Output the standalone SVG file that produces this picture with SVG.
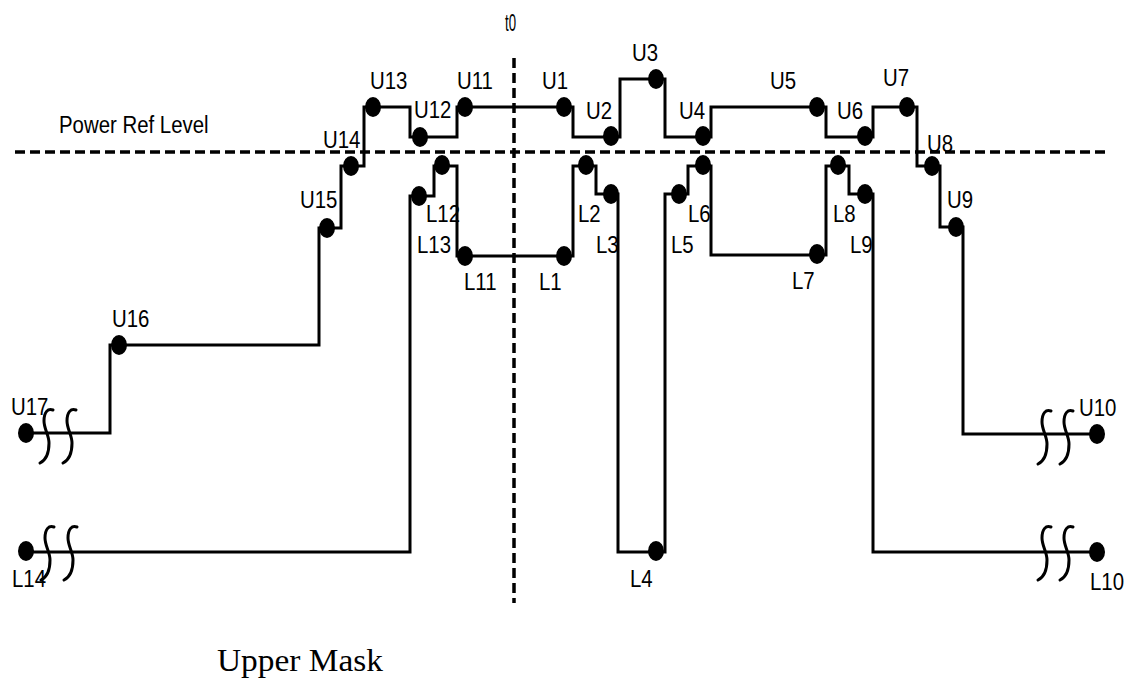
<svg xmlns="http://www.w3.org/2000/svg" width="1127" height="678" viewBox="0 0 1127 678">
<style>
.lbl{font-family:"Liberation Sans",Arial,sans-serif;font-size:24px;fill:#000}
.ttl{font-family:"Liberation Serif","Times New Roman",serif;font-size:31px;fill:#000}
.mask{fill:none;stroke:#000;stroke-width:3;stroke-linejoin:miter}
.ref{fill:none;stroke:#000;stroke-width:3.5;stroke-dasharray:10 5}
.dot{fill:#000}
.brk{fill:none;stroke:#000;stroke-width:3;stroke-linecap:round}
</style>
<defs>
<path id="brk" class="brk" d="M 6 -23 C 1 -25 -3 -21 -3 -12 C -3 -4 2 2 2 10 C 2 20 -1 27 -7 30"/>
<ellipse id="d" class="dot" rx="8" ry="10"/>
</defs>
<rect width="1127" height="678" fill="#fff"/>
<g id="reference-lines">
<line class="ref" x1="15" y1="152" x2="1106" y2="152"/>
<line class="ref" x1="514" y1="58" x2="514" y2="603"/>
<text class="lbl" transform="translate(505 31) scale(0.55 1)">t0</text>
<text class="lbl" transform="translate(59 133) scale(0.85 1)">Power Ref Level</text>
</g>
<g id="connectors">
<path id="upper-mask" class="mask" d="M 26 433 H 110 V 345 H 319 V 228 H 341 V 166 H 364 V 107 H 410 V 137 H 457 V 107 H 573 V 137 H 620 V 79 H 665 V 137 H 711 V 107 H 826 V 137 H 873 V 107 H 917 V 166 H 940 V 227 H 963 V 434 H 1097"/>
<path id="lower-mask" class="mask" d="M 26 552 H 410 V 196 H 434 V 166 H 457 V 256 H 573 V 166 H 596 V 194 H 618 V 552 H 665 V 194 H 688 V 166 H 711 V 255 H 826 V 166 H 849 V 194 H 873 V 552 H 1097"/>
<use href="#brk" x="47" y="433"/>
<use href="#brk" x="70" y="433"/>
<use href="#brk" x="48" y="550"/>
<use href="#brk" x="71" y="550"/>
<use href="#brk" x="1045" y="434"/>
<use href="#brk" x="1067" y="434"/>
<use href="#brk" x="1045" y="550"/>
<use href="#brk" x="1067" y="550"/>
</g>
<g id="U17"><use href="#d" x="26" y="433"/><text class="lbl" transform="translate(11 415) scale(0.85 1)">U17</text></g>
<g id="U16"><use href="#d" x="119" y="345"/><text class="lbl" transform="translate(112 327) scale(0.85 1)">U16</text></g>
<g id="U15"><use href="#d" x="327" y="228"/><text class="lbl" transform="translate(300 208) scale(0.85 1)">U15</text></g>
<g id="U14"><use href="#d" x="351" y="166"/><text class="lbl" transform="translate(323 148) scale(0.85 1)">U14</text></g>
<g id="U13"><use href="#d" x="373" y="107"/><text class="lbl" transform="translate(370 89) scale(0.85 1)">U13</text></g>
<g id="U12"><use href="#d" x="420" y="137"/><text class="lbl" transform="translate(414 118) scale(0.85 1)">U12</text></g>
<g id="U11"><use href="#d" x="465" y="107"/><text class="lbl" transform="translate(457 89) scale(0.85 1)">U11</text></g>
<g id="U1"><use href="#d" x="564" y="107"/><text class="lbl" transform="translate(542 89) scale(0.85 1)">U1</text></g>
<g id="U2"><use href="#d" x="611" y="136"/><text class="lbl" transform="translate(586 119) scale(0.85 1)">U2</text></g>
<g id="U3"><use href="#d" x="656" y="79"/><text class="lbl" transform="translate(632 61) scale(0.85 1)">U3</text></g>
<g id="U4"><use href="#d" x="703" y="136"/><text class="lbl" transform="translate(679 119) scale(0.85 1)">U4</text></g>
<g id="U5"><use href="#d" x="817" y="107"/><text class="lbl" transform="translate(770 89) scale(0.85 1)">U5</text></g>
<g id="U6"><use href="#d" x="865" y="136"/><text class="lbl" transform="translate(837 119) scale(0.85 1)">U6</text></g>
<g id="U7"><use href="#d" x="907" y="107"/><text class="lbl" transform="translate(883 86) scale(0.85 1)">U7</text></g>
<g id="U8"><use href="#d" x="932" y="166"/><text class="lbl" transform="translate(927 152) scale(0.85 1)">U8</text></g>
<g id="U9"><use href="#d" x="956" y="227"/><text class="lbl" transform="translate(947 208) scale(0.85 1)">U9</text></g>
<g id="U10"><use href="#d" x="1097" y="434"/><text class="lbl" transform="translate(1079 416) scale(0.85 1)">U10</text></g>
<g id="L14"><use href="#d" x="26" y="551"/><text class="lbl" transform="translate(12 587) scale(0.85 1)">L14</text></g>
<g id="L13"><use href="#d" x="419" y="196"/><text class="lbl" transform="translate(417 253) scale(0.85 1)">L13</text></g>
<g id="L12"><use href="#d" x="442" y="165"/><text class="lbl" transform="translate(426 222) scale(0.85 1)">L12</text></g>
<g id="L11"><use href="#d" x="465" y="256"/><text class="lbl" transform="translate(464 290) scale(0.85 1)">L11</text></g>
<g id="L1"><use href="#d" x="564" y="256"/><text class="lbl" transform="translate(539 290) scale(0.85 1)">L1</text></g>
<g id="L2"><use href="#d" x="586" y="165"/><text class="lbl" transform="translate(578 222) scale(0.85 1)">L2</text></g>
<g id="L3"><use href="#d" x="611" y="194"/><text class="lbl" transform="translate(596 253) scale(0.85 1)">L3</text></g>
<g id="L4"><use href="#d" x="656" y="551"/><text class="lbl" transform="translate(630 587) scale(0.85 1)">L4</text></g>
<g id="L5"><use href="#d" x="679" y="194"/><text class="lbl" transform="translate(671 253) scale(0.85 1)">L5</text></g>
<g id="L6"><use href="#d" x="703" y="165"/><text class="lbl" transform="translate(688 222) scale(0.85 1)">L6</text></g>
<g id="L7"><use href="#d" x="817" y="254"/><text class="lbl" transform="translate(792 289) scale(0.85 1)">L7</text></g>
<g id="L8"><use href="#d" x="838" y="165"/><text class="lbl" transform="translate(833 222) scale(0.85 1)">L8</text></g>
<g id="L9"><use href="#d" x="865" y="194"/><text class="lbl" transform="translate(850 253) scale(0.85 1)">L9</text></g>
<g id="L10"><use href="#d" x="1097" y="552"/><text class="lbl" transform="translate(1090 590) scale(0.85 1)">L10</text></g>
<text class="ttl" x="217" y="671" textLength="166" lengthAdjust="spacingAndGlyphs">Upper Mask</text>
</svg>
